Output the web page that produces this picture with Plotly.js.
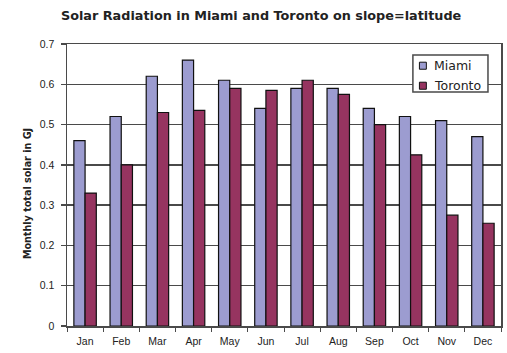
<!DOCTYPE html>
<html>
<head>
<meta charset="utf-8">
<script src="https://cdn.plot.ly/plotly-3.0.1.min.js"></script>
<style>
  html, body { margin: 0; padding: 0; background: #ffffff; }
  #chart { width: 507px; height: 353px; }
</style>
</head>
<body>
<div id="chart"></div>
<script>
// Monthly total solar radiation (GJ) on a surface tilted at latitude
const months = ['Jan', 'Feb', 'Mar', 'Apr', 'May', 'Jun', 'Jul', 'Aug', 'Sep', 'Oct', 'Nov', 'Dec'];
const miami = [0.46, 0.52, 0.62, 0.66, 0.61, 0.54, 0.59, 0.59, 0.54, 0.52, 0.51, 0.47];
const toronto = [0.33, 0.40, 0.53, 0.535, 0.59, 0.585, 0.61, 0.575, 0.50, 0.425, 0.275, 0.255];
const yTicks = [0, 0.1, 0.2, 0.3, 0.4, 0.5, 0.6, 0.7];
const yTickText = ['0', '0.1', '0.2', '0.3', '0.4', '0.5', '0.6', '0.7'];

const seriesNames = ['Miami', 'Toronto'];
const seriesColors = ['#9c9cd0', '#963460'];

const font = 'Liberation Sans, Arial, sans-serif';
const wideFont = 'DejaVu Sans, Verdana, sans-serif';
const ink = '#222222';
const frame = '#4a4a4a';

const traces = [miami, toronto].map((vals, i) => ({
  type: 'bar', name: seriesNames[i], x: months, y: vals,
  marker: { color: seriesColors[i], line: { color: '#111111', width: 1.2 } }
}));

// Compact boxed legend in the upper right of the plot area
const legendBox = { x0: 0.797, x1: 0.970, y0: 0.830, y1: 0.961 };
const rowY = [0.923, 0.852];
const shapes = [{
  type: 'rect', xref: 'paper', yref: 'paper',
  x0: legendBox.x0, x1: legendBox.x1, y0: legendBox.y0, y1: legendBox.y1,
  fillcolor: '#ffffff', line: { color: frame, width: 1.5 }
}];
const annotations = [];
seriesNames.forEach((name, i) => {
  shapes.push({
    type: 'rect', xref: 'paper', yref: 'paper',
    x0: 0.812, x1: 0.828, y0: rowY[i] - 0.0125, y1: rowY[i] + 0.0125,
    fillcolor: seriesColors[i], line: { color: '#111111', width: 1 }
  });
  annotations.push({
    xref: 'paper', yref: 'paper', x: 0.840, y: rowY[i],
    xanchor: 'left', yanchor: 'middle', showarrow: false,
    text: name, font: { family: wideFont, size: 12.5, color: ink }
  });
});

// Vertical axis caption, placed slightly below the plot's midline
annotations.push({
  xref: 'paper', yref: 'paper', x: -0.092, y: 0.468,
  xanchor: 'center', yanchor: 'middle', showarrow: false, textangle: -90,
  text: '<b>Monthly total solar in GJ</b>',
  font: { family: wideFont, size: 9.6, color: ink }
});

const layout = {
  width: 507, height: 353,
  margin: { l: 67, r: 6, t: 44, b: 27 },
  paper_bgcolor: '#ffffff',
  plot_bgcolor: '#ffffff',
  barmode: 'group',
  bargap: 0.38,
  bargroupgap: 0,
  showlegend: false,
  font: { family: font, size: 10, color: ink },
  title: {
    text: '<b>Solar Radiation in Miami and Toronto on slope=latitude</b>',
    font: { family: wideFont, size: 12.8, color: ink },
    x: 0.515, xanchor: 'center', y: 0.955, yanchor: 'middle'
  },
  xaxis: {
    type: 'category',
    tickson: 'boundaries',
    ticks: 'outside', ticklen: 4, tickcolor: frame, tickwidth: 1,
    ticklabelstandoff: 5,
    showline: true, linecolor: frame, linewidth: 1.5,
    mirror: true,
    showgrid: false,
    tickfont: { family: font, size: 10.5, color: ink }
  },
  yaxis: {
    range: [0, 0.7],
    tickvals: yTicks, ticktext: yTickText,
    ticks: 'outside', ticklen: 5, tickcolor: frame, tickwidth: 1.5,
    ticklabelstandoff: 4,
    showline: true, linecolor: frame, linewidth: 1.5,
    mirror: true,
    showgrid: true, gridcolor: frame, gridwidth: 1.5,
    zeroline: false,
    tickfont: { family: font, size: 10.5, color: ink }
  },
  shapes: shapes,
  annotations: annotations
};

Plotly.newPlot('chart', traces, layout, { displayModeBar: false, staticPlot: true });
</script>
</body>
</html>
